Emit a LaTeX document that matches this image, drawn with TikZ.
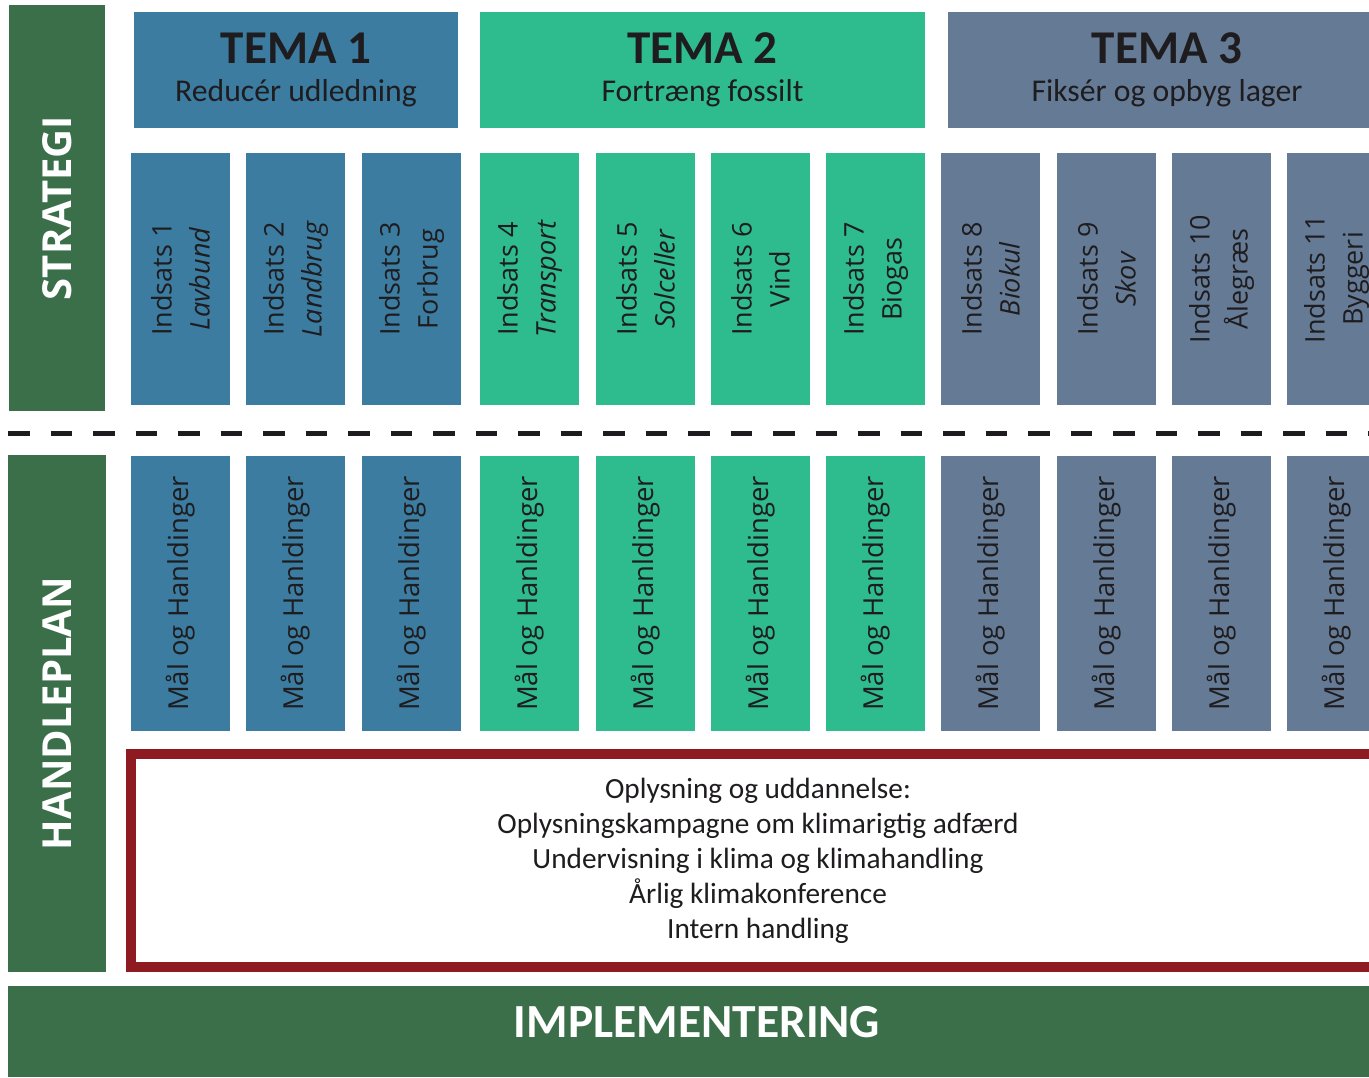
\documentclass[tikz,border=0pt]{standalone}
\usepackage{fontspec}
\setmainfont{Carlito}
\newfontfamily\osans{Open Sans}
\definecolor{blu}{RGB}{59,124,160}
\definecolor{grn}{RGB}{46,187,142}
\definecolor{gry}{RGB}{101,123,149}
\definecolor{dkgreen}{RGB}{58,111,74}
\definecolor{redb}{RGB}{142,26,34}
\definecolor{txt}{RGB}{30,28,30}
\tikzset{
  sidebar/.style={fill=dkgreen, draw=none, text=white, rotate=90, inner sep=0pt,
    font=\osans\bfseries\fontsize{40}{40}\selectfont},
  tema/.style={draw=none, align=center, text=txt, inner sep=0pt,
    font=\fontsize{31.7}{38}\selectfont, minimum height=116pt},
  indbox/.style={draw=none, rotate=90, align=center, text=txt, inner sep=0pt,
    minimum width=252pt, minimum height=99pt, font=\osans\fontsize{27}{38}\selectfont},
  malbox/.style={draw=none, rotate=90, text=txt, inner sep=0pt,
    minimum width=275pt, minimum height=99pt, font=\osans\fontsize{27.5}{38}\selectfont},
  dashline/.style={line width=5pt, draw=txt, dash pattern=on 21.5pt off 21pt},
}
\newcommand{\temahd}[1]{{\fontsize{47}{47}\selectfont\bfseries #1}}
\begin{document}
\begin{tikzpicture}[x=1pt,y=-1pt]
\useasboundingbox (0,0) rectangle (1369,1077);
\clip (0,0) rectangle (1369,1077);
% side bars
\node[sidebar, minimum width=406pt, minimum height=96pt] (strategi) at (57,208) {STRATEGI};
\node[sidebar, minimum width=517pt, minimum height=98pt] (handleplan) at (57,713.5) {HANDLEPLAN};
% temas
\node[tema, fill=blu, minimum width=324pt] (t1) at (296,70)
  {\temahd{TEMA 1}\\Reducér udledning};
\node[tema, fill=grn, minimum width=445pt] (t2) at (702.5,70)
  {\temahd{TEMA 2}\\Fortræng fossilt};
\node[tema, fill=gry, minimum width=438pt] (t3) at (1167,70)
  {\temahd{TEMA 3}\\Fiksér og opbyg lager};
% indsats boxes
\node[indbox, fill=blu] (i1) at (180.5,279) {Indsats 1\\\textit{Lavbund}};
\node[indbox, fill=blu] (i2) at (295.5,279) {Indsats 2\\\textit{Landbrug}};
\node[indbox, fill=blu] (i3) at (411.5,279) {Indsats 3\\Forbrug};
\node[indbox, fill=grn] (i4) at (529.5,279) {Indsats 4\\\textit{Transport}};
\node[indbox, fill=grn] (i5) at (645.5,279) {Indsats 5\\\textit{Solceller}};
\node[indbox, fill=grn] (i6) at (760.5,279) {Indsats 6\\Vind};
\node[indbox, fill=grn] (i7) at (875.5,279) {Indsats 7\\Biogas};
\node[indbox, fill=gry] (i8) at (990.5,279) {Indsats 8\\\textit{Biokul}};
\node[indbox, fill=gry] (i9) at (1106.5,279) {Indsats 9\\\textit{Skov}};
\node[indbox, fill=gry] (i10) at (1221.5,279) {Indsats 10\\Ålegræs};
\node[indbox, fill=gry] (i11) at (1336.5,279) {Indsats 11\\Byggeri};
% dashed separator
\coordinate (dl) at (8,433);
\coordinate (dr) at (1380,433);
\draw[dashline] (dl) -- (dr);
% maal boxes
\foreach \n/\xx/\cc in {1/180.5/blu,2/295.5/blu,3/411.5/blu,4/529.5/grn,5/645.5/grn,6/760.5/grn,7/875.5/grn,8/990.5/gry,9/1106.5/gry,10/1221.5/gry,11/1336.5/gry}
  \node[malbox, fill=\cc] (m\n) at (\xx,593.5) {Mål og Hanldinger};
% education box
\node[draw=redb, line width=10pt, fill=white, minimum width=1254pt, minimum height=213pt,
  align=center, text=txt, font=\fontsize{29.3}{35}\selectfont, inner sep=0pt] (edu) at (758,860.5)
  {Oplysning og uddannelse:\\Oplysningskampagne om klimarigtig adfærd\\Undervisning i klima og klimahandling\\Årlig klimakonference\\Intern handling};
% implementation bar
\node[fill=dkgreen, draw=none, minimum width=1380pt, minimum height=91pt, inner sep=0pt] (impl) at (698,1031.5) {};
\node[text=white, font=\bfseries\fontsize{47.5}{47.5}\selectfont, inner sep=0pt] (impltxt) at (697,1022) {IMPLEMENTERING};
\end{tikzpicture}
\end{document}
